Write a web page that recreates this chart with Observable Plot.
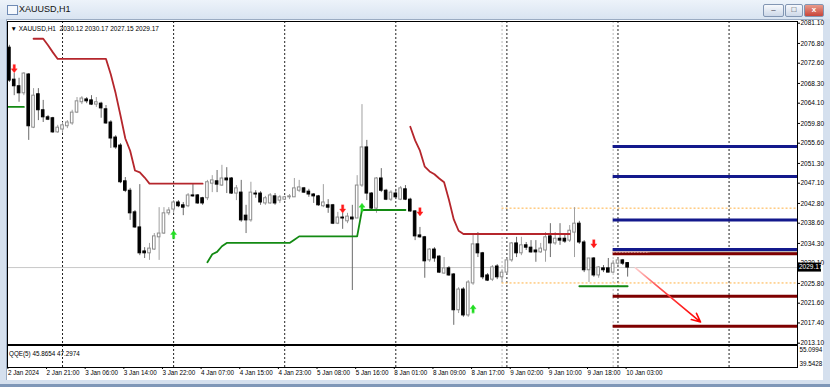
<!DOCTYPE html>
<html><head><meta charset="utf-8">
<script src="https://cdn.jsdelivr.net/npm/d3@7"></script>
<script src="https://cdn.jsdelivr.net/npm/@observablehq/plot@0.6"></script>
<style>
html,body{margin:0;padding:0;}
body{width:830px;height:387px;overflow:hidden;background:#d5e0ee;position:relative;font-family:"Liberation Sans",Arial,sans-serif;}
#title{position:absolute;left:0;top:0;width:830px;height:19px;background:linear-gradient(#edf3fa,#d9e4f1);}
#title .t{position:absolute;left:19px;top:4px;font-size:9px;color:#111;}
#icon{position:absolute;left:7px;top:5px;width:9px;height:8px;border:1px solid #6f8bb5;background:#f6f9fd;}
#client{position:absolute;left:6px;top:19px;width:816px;height:360px;background:#fff;border-left:1px solid #9aabc2;border-top:1px solid #9aabc2;}
#bottomline{position:absolute;left:0;top:384px;width:830px;height:3px;background:#7f97b8;}
.btn{position:absolute;top:4px;height:11px;border:1px solid #8296b3;border-radius:2px;background:linear-gradient(#f7f9fc,#cdd8e8);font-size:8px;text-align:center;line-height:10px;color:#334;}
#main,#panel{position:absolute;left:0;}
#main{top:20px;}
#panel{top:344px;}
</style></head><body>
<div id="title"><div id="icon"></div><div class="t">XAUUSD,H1</div>
<div class="btn" style="left:763px;width:19px;">–</div>
<div class="btn" style="left:785px;width:16px;">□</div>
<div class="btn" style="left:804px;width:18px;background:linear-gradient(#e99a8a,#c8453a);color:#fff;font-weight:bold;">x</div>
</div>
<div id="client"></div>
<div id="bottomline"></div>
<div id="main"></div>
<div id="panel"></div>
<script>
// ---------- data ----------
const symbolName = "XAUUSD,H1";
const open = [
2075.9,2069.1,2067.7,2066.2,2070.2,2058.9,2066.0,2062.6,2061.1,2060.9,
2057.9,2058.5,2059.2,2059.8,2062.1,2064.3,2064.9,2064.7,2063.8,2064.0,
2062.8,2060.0,2056.8,2055.1,2047.5,2045.5,2040.9,2037.7,2032.6,2032.2,
2033.0,2035.6,2036.4,2040.7,2041.5,2043.0,2042.4,2042.2,2044.5,2044.5,
2043.9,2043.9,2047.0,2047.5,2046.6,2048.1,2048.1,2044.9,2045.1,2040.2,
2039.2,2044.9,2044.9,2042.8,2042.8,2044.3,2043.4,2043.6,2044.1,2044.1,
2045.5,2046.0,2045.3,2044.7,2044.3,2042.2,2042.4,2042.4,2038.5,2039.8,
2039.0,2039.8,2039.6,2046.6,2054.7,2044.9,2041.7,2048.1,2045.5,2043.6,
2044.9,2043.6,2045.8,2043.6,2041.1,2036.0,2035.6,2030.7,2033.0,2031.5,
2027.9,2029.0,2027.7,2020.1,2024.5,2019.0,2025.8,2034.1,2032.2,2027.5,
2026.6,2029.4,2027.1,2028.1,2030.7,2034.3,2032.2,2033.9,2033.4,2032.8,
2032.4,2032.8,2035.8,2034.3,2035.3,2035.3,2034.9,2036.6,2038.5,2034.5,
2028.6,2031.1,2027.5,2029.0,2029.0,2028.1,2030.0,2030.7,2030.12];
const high = [
2076.4,2070.4,2069.4,2070.6,2070.4,2067.2,2067.2,2064.7,2061.5,2061.1,
2059.4,2060.0,2060.4,2062.6,2065.3,2065.5,2065.3,2065.7,2065.3,2064.3,
2063.6,2060.4,2057.2,2055.5,2048.3,2046.0,2041.3,2046.8,2033.4,2034.3,
2036.4,2041.9,2041.9,2041.9,2043.4,2043.4,2043.0,2044.9,2047.0,2044.7,
2044.1,2047.7,2048.7,2049.8,2050.9,2050.4,2048.3,2046.6,2047.7,2042.4,
2047.3,2045.5,2045.3,2044.3,2044.9,2044.9,2044.5,2044.3,2044.7,2048.1,
2047.7,2046.2,2045.8,2044.9,2044.5,2046.8,2043.6,2042.6,2040.9,2040.7,
2040.7,2042.4,2048.7,2063.8,2056.2,2045.1,2048.3,2050.2,2045.8,2045.5,
2045.8,2046.4,2046.6,2043.9,2041.3,2037.7,2035.8,2033.2,2033.4,2031.7,
2031.3,2029.4,2027.9,2024.9,2024.9,2026.4,2036.4,2036.6,2032.4,2027.9,
2029.6,2029.8,2028.6,2031.1,2034.5,2035.6,2035.6,2034.5,2034.9,2034.9,
2034.3,2036.6,2038.5,2036.6,2038.5,2036.4,2038.1,2041.9,2039.0,2034.9,
2031.1,2031.3,2029.4,2029.6,2031.1,2030.7,2031.1,2030.9,2030.17];
const low = [
2068.5,2065.7,2064.3,2065.7,2056.2,2058.7,2060.4,2060.0,2060.4,2057.7,
2057.7,2057.7,2058.7,2059.4,2061.9,2063.8,2064.0,2063.6,2063.2,2060.9,
2059.6,2054.5,2054.3,2047.0,2045.1,2039.2,2037.5,2031.7,2031.1,2030.7,
2032.8,2030.7,2036.2,2040.2,2040.7,2041.9,2040.2,2041.9,2044.1,2042.6,
2042.4,2043.4,2045.1,2045.1,2046.4,2044.9,2044.7,2043.4,2038.8,2036.4,
2038.8,2043.9,2042.4,2042.4,2042.6,2042.4,2042.8,2043.4,2043.6,2044.1,
2045.1,2044.9,2044.1,2042.8,2042.2,2041.9,2040.7,2038.3,2038.3,2037.3,
2038.5,2024.3,2039.6,2046.2,2043.4,2041.3,2040.7,2045.1,2043.4,2043.2,
2043.6,2043.4,2043.4,2040.9,2034.9,2035.4,2026.9,2030.3,2030.3,2027.9,
2027.7,2027.3,2016.9,2019.4,2018.6,2018.6,2025.4,2031.3,2026.6,2026.2,
2026.2,2026.6,2026.0,2027.7,2030.3,2031.3,2031.7,2032.8,2032.2,2030.3,
2032.2,2030.3,2031.3,2033.9,2033.9,2034.3,2034.5,2031.3,2034.1,2028.1,
2026.0,2027.1,2026.9,2028.1,2028.1,2027.9,2029.6,2029.6,2027.15];
const close = [
2068.9,2067.7,2066.2,2070.4,2059.2,2065.7,2062.6,2061.1,2060.6,2057.9,
2058.9,2059.4,2060.0,2062.1,2064.5,2065.1,2064.5,2063.8,2064.3,2063.0,
2059.8,2056.6,2054.7,2047.3,2045.5,2040.7,2037.7,2032.2,2032.2,2033.2,
2035.8,2036.4,2040.7,2041.3,2043.0,2042.2,2041.9,2044.5,2044.3,2042.8,
2042.8,2047.3,2047.7,2046.8,2048.1,2047.7,2044.9,2046.0,2039.2,2039.2,
2045.1,2044.7,2043.0,2043.9,2044.5,2042.8,2044.1,2044.1,2044.3,2046.0,
2046.2,2045.1,2044.7,2044.3,2042.4,2043.0,2041.9,2038.5,2039.8,2039.6,
2040.0,2039.4,2046.6,2054.7,2044.9,2041.7,2048.1,2045.5,2043.6,2045.1,
2044.1,2046.0,2043.6,2041.1,2035.8,2035.6,2030.5,2033.0,2031.1,2028.1,
2029.0,2027.5,2020.1,2024.5,2019.0,2026.0,2034.1,2032.2,2027.1,2026.4,
2029.2,2027.1,2028.1,2030.7,2034.3,2032.2,2033.9,2033.4,2032.4,2032.4,
2033.2,2035.6,2034.3,2035.3,2034.9,2034.7,2037.0,2038.5,2034.5,2028.6,
2031.1,2027.5,2029.2,2028.6,2028.1,2030.0,2030.7,2030.0,2029.17];

// trailing stop lines (bar index of first value, then one value per bar)
const redAStart = 5;
const redAValues = [2077.8,2077.8,2077.8,2076.4,2074.9,2073.5,2073.5,2073.5,2073.5,2073.5,
  2073.5,2073.5,2073.5,2073.5,2073.5,2073.5,2070.2,2066.2,2061.5,2056.6,2054.0,2049.8,2049.4,2048.3,2047.0,
  2047.0,2047.0,2047.0,2047.0,2047.0,2047.0,2047.0,2047.0,2047.0,2047.0,2047.0];
const redBStart = 83;
const redBValues = [2059.1,2056.2,2054.0,2050.6,2049.6,2049.0,2048.1,2047.3,2043.6,2039.4,2037.0,2036.3,
  2036.3,2036.3,2036.3,2036.3,2036.3,2036.3,2036.3,2036.3,2036.3,2036.3,2036.3,2036.3,2036.3,2036.3,2036.3,
  2036.3,2036.3,2036.3,2036.3,2036.3,2036.3,2036.3];
const greenAStart = -1;
const greenAValues = [2063.3,2063.3,2063.3,2063.3,2063.3];
const greenBStart = 41;
const greenBValues = [2030.3,2032.0,2032.5,2033.7,2034.4,
  2034.4,2034.4,2034.4,2034.4,2034.4,2034.4,2034.4,2034.4,2034.4,2034.4,2034.4,2034.4,2034.4,
  2035.1,
  2035.8,2035.8,2035.8,2035.8,2035.8,2035.8,2035.8,2035.8,2035.8,2035.8,2035.8,2035.8,2035.8,
  2041.4,2041.4,2041.4,2041.4,2041.4,2041.4,2041.4,2041.4,2041.4,2041.4];
const greenCStart = 118;
const greenCValues = [2025.2,2025.2,2025.2,2025.2,2025.2,2025.2,2025.2,2025.2,2025.2,2025.2,2025.2];

const sellIdx = [1, 69, 85, 121];
const sellPrice = [2071.4, 2041.6, 2041.0, 2034.2];
const buyIdx = [34, 73, 96];
const buyPrice = [2036.2, 2042.0, 2020.4];

const orangeLevels = [2041.8, 2025.9];
const orangeStart = 102;
const blueLevels = [2054.9, 2048.5, 2039.3, 2033.0];
const maroonLevels = [2032.1, 2023.1, 2016.7];
const greyLevel = [2032.5];
const levelStart = 125;
const levelEnd = 170;
const pinkEnd = 132.6;

const trendFrom = [129.6, 2029.1];
const trendTo = [143.1, 2017.6];

const priceTicks = [2081.10,2076.80,2072.60,2068.30,2064.10,2059.80,2055.60,2051.30,2047.10,
  2042.80,2038.60,2034.30,2030.10,2025.80,2021.60,2017.40,2013.10];
const timeTickIdx = [0,8,16,24,32,40,48,56,64,72,80,88,96,104,112,120,128];
const timeTickLabels = ["2 Jan 2024","2 Jan 21:00","3 Jan 06:00","3 Jan 14:00","3 Jan 22:00",
  "4 Jan 07:00","4 Jan 15:00","4 Jan 23:00","5 Jan 08:00","5 Jan 16:00","8 Jan 01:00",
  "8 Jan 09:00","8 Jan 17:00","9 Jan 02:00","9 Jan 10:00","9 Jan 18:00","10 Jan 03:00"];
const daySeparators = [11, 34, 57, 80, 103, 126, 149];
const greySeparators = [102, 125];

const qqeName = "QQE(5)";
const qqeValues = [45.8654, 47.2974];
const qqeTicks = [55.0994, 39.5428];

// ---------- build ----------
const last = open.length - 1;
const lastClose = close[last];
const candles = open.map((o, i) => ({i, o, h: high[i], l: low[i], c: close[i]}));
const ups = candles.filter(d => d.c >= d.o);
const downs = candles.filter(d => d.c < d.o);
const series = (start, vals) => vals.map((v, k) => ({i: start + k, v}));
const sells = sellIdx.map((i, k) => ({i, p: sellPrice[k]}));
const buys = buyIdx.map((i, k) => ({i, p: buyPrice[k]}));
const header = `▼ ${symbolName}  ${open[last].toFixed(2)} ${high[last].toFixed(2)} ${low[last].toFixed(2)} ${close[last].toFixed(2)}`;

const thickArrow = {
  draw(ctx, l) {
    const hw = 3, sw = 1.1, hh = l * 0.5;
    ctx.moveTo(-sw, 0); ctx.lineTo(-sw, -l + hh); ctx.lineTo(-hw, -l + hh);
    ctx.lineTo(0, -l); ctx.lineTo(hw, -l + hh); ctx.lineTo(sw, -l + hh);
    ctx.lineTo(sw, 0); ctx.closePath();
  }
};

const font = "'Liberation Sans', Arial, sans-serif";
const xScale = {domain: [0, 128], range: [8.9, 627.14], axis: null};

function priceBox(index, scales, values, dims) {
  const yy = scales.y(lastClose);
  const x0 = dims.width - dims.marginRight;
  const g = d3.create("svg:g");
  g.append("rect").attr("x", x0).attr("y", yy - 4.5).attr("width", 24).attr("height", 9).attr("fill", "#000");
  g.append("text").attr("x", x0 + 2).attr("y", yy).attr("dy", "0.35em").attr("fill", "#fff")
    .attr("text-anchor", "start").attr("font-size", 6.5).text(lastClose.toFixed(2));
  return g.node();
}

const main = Plot.plot({
  width: 830, height: 325,
  marginLeft: 7, marginRight: 33, marginTop: 1, marginBottom: 1,
  style: {background: "transparent", fontFamily: font, fontSize: "6.5px", color: "#000", overflow: "visible"},
  x: xScale,
  y: {domain: [2013.1, 2081.1], range: [322.7, 2.7], axis: null},
  marks: [
    Plot.ruleX(daySeparators, {x: d => d, stroke: "#222", strokeDasharray: "2,2", strokeWidth: 1}),
    Plot.ruleX(greySeparators, {x: d => d, stroke: "#b8b8b8", strokeDasharray: "2,2", strokeWidth: 1}),
    Plot.ruleY([lastClose], {y: d => d, stroke: "#c8c8c8", strokeWidth: 1}),
    Plot.ruleY(orangeLevels, {y: d => d, x1: orangeStart, x2: levelEnd, stroke: "#ffb040", strokeDasharray: "2,2", strokeWidth: 1, clip: true}),
    // candles
    Plot.ruleX(ups, {x: "i", y1: "l", y2: "h", stroke: "#a0a0a0", strokeWidth: 1}),
    Plot.ruleX(downs, {x: "i", y1: "l", y2: "h", stroke: "#6a6a6a", strokeWidth: 1}),
    Plot.rect(ups, {x1: d => d.i - 0.27, x2: d => d.i + 0.27, y1: "o", y2: "c", fill: "#fff", stroke: "#8c8c8c", strokeWidth: 1}),
    Plot.rect(downs, {x1: d => d.i - 0.27, x2: d => d.i + 0.27, y1: "o", y2: "c", fill: "#000", stroke: "#000", strokeWidth: 1}),
    // trailing lines
    Plot.line(series(redAStart, redAValues), {x: "i", y: "v", stroke: "#b5262c", strokeWidth: 1.8}),
    Plot.line(series(redBStart, redBValues), {x: "i", y: "v", stroke: "#b5262c", strokeWidth: 1.8}),
    Plot.line(series(greenAStart, greenAValues), {x: "i", y: "v", stroke: "#138a13", strokeWidth: 1.8, clip: true}),
    Plot.line(series(greenBStart, greenBValues), {x: "i", y: "v", stroke: "#138a13", strokeWidth: 1.8}),
    Plot.line(series(greenCStart, greenCValues), {x: "i", y: "v", stroke: "#138a13", strokeWidth: 1.8}),
    // levels
    Plot.ruleY(blueLevels, {y: d => d, x1: levelStart, x2: levelEnd, stroke: "#13198c", strokeWidth: 3, clip: true}),
    Plot.ruleY(greyLevel, {y: d => d, x1: levelStart, x2: levelEnd, stroke: "#a4a4a4", strokeWidth: 1.5, clip: true}),
    Plot.ruleY(maroonLevels, {y: d => d, x1: levelStart, x2: levelEnd, stroke: "#7e0000", strokeWidth: 3, clip: true}),
    Plot.ruleY(greyLevel, {y: d => d, x1: levelStart, x2: pinkEnd, stroke: "#e8b0b0", strokeDasharray: "2,1", strokeWidth: 1.5}),
    // signals
    Plot.vector(sells, {x: "i", y: "p", length: 8, rotate: 180, shape: thickArrow, fill: "#ff1a1a", stroke: "#ff1a1a", strokeWidth: 0.4}),
    Plot.vector(buys, {x: "i", y: "p", length: 8, rotate: 0, shape: thickArrow, fill: "#22dd22", stroke: "#22dd22", strokeWidth: 0.4}),
    Plot.arrow([{a: trendFrom, b: trendTo}], {x1: d => d.a[0], y1: d => d.a[1], x2: d => d.b[0], y2: d => d.b[1],
      stroke: "#ff2020", strokeWidth: 1.6, headLength: 9, headAngle: 50}),
    Plot.frame({stroke: "#000"}),
    Plot.axisY({ticks: priceTicks, anchor: "right", tickSize: 2, tickPadding: 1, tickFormat: d => d.toFixed(2), label: null, fontSize: 6.5}),
    priceBox,
    Plot.text([header], {text: d => d, frameAnchor: "top-left", dx: 3, dy: 5, textAnchor: "start", fontSize: 6.5, fill: "#000"})
  ]
});
document.getElementById("main").appendChild(main);

// gradient on trend arrow tail
const svgSel = d3.select(main);
svgSel.insert("defs", ":first-child").html(
  '<linearGradient id="trendGrad" x1="0" y1="0" x2="1" y2="1">' +
  '<stop offset="0" stop-color="#ffd0d0"/><stop offset="0.35" stop-color="#ff5050"/><stop offset="1" stop-color="#ff0000"/></linearGradient>');
svgSel.selectAll('g[aria-label="arrow"] path').attr("stroke", "url(#trendGrad)");

const panel = Plot.plot({
  width: 830, height: 36,
  marginLeft: 7, marginRight: 33, marginTop: 1, marginBottom: 13,
  style: {background: "transparent", fontFamily: font, fontSize: "6.3px", color: "#000", overflow: "visible"},
  x: xScale,
  y: {domain: [39.5428, 55.0994], range: [19.3, 5.3], axis: null},
  marks: [
    Plot.ruleX(daySeparators, {x: d => d, stroke: "#222", strokeDasharray: "2,2", strokeWidth: 1}),
    Plot.ruleX(greySeparators, {x: d => d, stroke: "#b8b8b8", strokeDasharray: "2,2", strokeWidth: 1}),
    Plot.frame({stroke: "#000"}),
    Plot.axisY({ticks: qqeTicks, anchor: "right", tickSize: 0, tickPadding: 2, tickFormat: d => d.toFixed(4), label: null, fontSize: 6.3}),
    Plot.axisX({ticks: timeTickIdx, tickFormat: d => timeTickLabels[timeTickIdx.indexOf(d)], anchor: "bottom",
      tickSize: 2, tickPadding: 1, textAnchor: "start", dx: -1.5, label: null, fontSize: 6.3}),
    Plot.text([`${qqeName} ${qqeValues[0].toFixed(4)} ${qqeValues[1].toFixed(4)}`], {text: d => d, frameAnchor: "top-left", dx: 1.5, dy: 6, textAnchor: "start", fontSize: 6.3, fill: "#000"})
  ]
});
document.getElementById("panel").appendChild(panel);
</script>
</body></html>
